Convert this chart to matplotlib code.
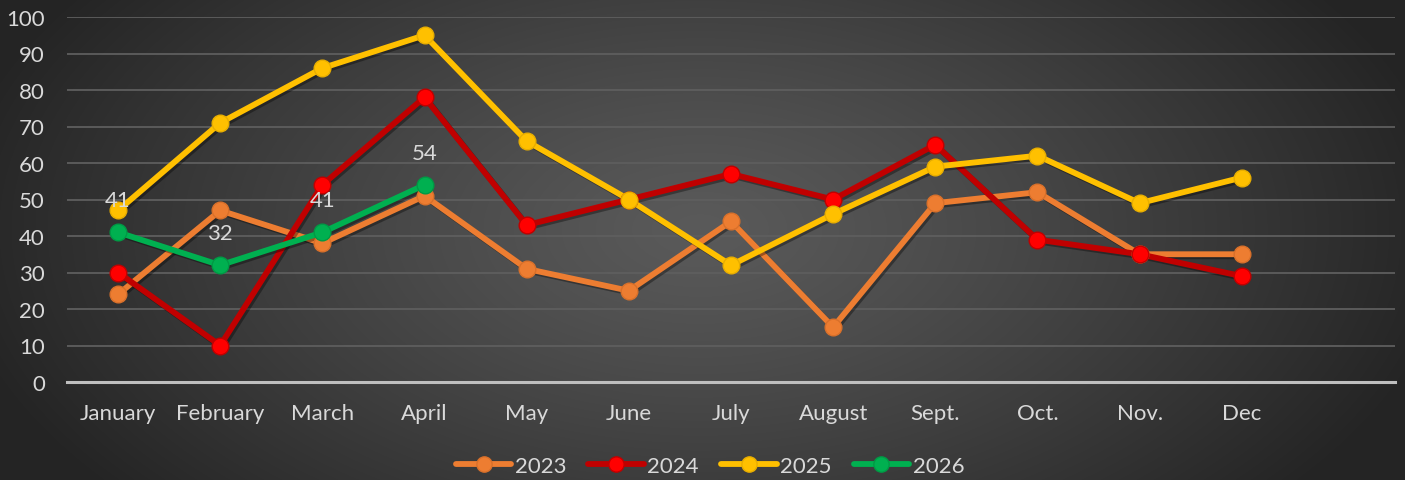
import numpy as np
import matplotlib
matplotlib.use("Agg")
import matplotlib.pyplot as plt
import matplotlib.patheffects as pe
from matplotlib.lines import Line2D

months = ["January", "February", "March", "April", "May", "June", "July",
          "August", "Sept.", "Oct.", "Nov.", "Dec"]
s2023 = [24, 47, 38, 51, 31, 25, 44, 15, 49, 52, 35, 35]
s2024 = [30, 10, 54, 78, 43, 50, 57, 50, 65, 39, 35, 29]
s2025 = [47, 71, 86, 95, 66, 50, 32, 46, 59, 62, 49, 56]
s2026 = [41, 32, 41, 54]
series_names = ["2023", "2024", "2025", "2026"]
yticks = [0, 10, 20, 30, 40, 50, 60, 70, 80, 90, 100]

plt.rcParams['font.family'] = ['Lato', 'DejaVu Sans']
txt = '#D9D9D9'
fs = 16

W, H = 1405, 481
fig = plt.figure(figsize=(W / 100, H / 100), dpi=100)

# radial gradient background
bg = fig.add_axes([0, 0, 1, 1], zorder=-10)
yy, xx = np.mgrid[0:H, 0:W]
cx, cy = 700, 230
d = np.sqrt(((xx - cx) / 760.0) ** 2 + ((yy - cy) / 420.0) ** 2)
d = np.clip(d, 0, 1)
inner = np.array([0x5A, 0x5A, 0x5A]) / 255.0
outer = np.array([0x24, 0x24, 0x24]) / 255.0
img = inner[None, None, :] * (1 - d[..., None] ** 1.2) + outer[None, None, :] * (d[..., None] ** 1.2)
bg.imshow(img, aspect='auto', extent=[0, 1, 0, 1])
bg.axis('off')

ax = fig.add_axes([67 / W, 1 - 383 / H, (1395 - 67) / W, (383 - 18) / H])
ax.set_facecolor('none')

x = np.arange(len(months))
styles = [
    (s2023, '#ED7D31', '#ED7D31', '#D9702A'),
    (s2024, '#C00000', '#FF0000', '#C00000'),
    (s2025, '#FFC000', '#FFC000', '#E8AE00'),
    (s2026, '#00B050', '#00B050', '#009A45'),
]
shadow = [pe.SimpleLineShadow(offset=(1.5, -1.5), shadow_color='black', alpha=0.35), pe.Normal()]
handles = []
for (vals, lc, mc, ec), name in zip(styles, series_names):
    xs = x[:len(vals)]
    ax.plot(xs, vals, color=lc, lw=4.2, solid_capstyle='round', zorder=3,
            path_effects=shadow)
    ax.plot(xs, vals, ls='none', marker='o', ms=12, mfc=mc, mec=ec, mew=1,
            zorder=4)
    handles.append(Line2D([0], [0], color=lc, lw=4.2, marker='o', ms=11,
                          mfc=mc, mec=ec, solid_capstyle='round'))

for xi, v in zip(x[:len(s2026)], s2026):
    ax.annotate(str(v), (xi, v), xytext=(0, 23), textcoords='offset points',
                ha='center', va='center', color=txt, fontsize=fs, zorder=5)

ax.set_xlim(-0.5, 12.5)
ax.set_ylim(0, 100)
ax.set_yticks(yticks)
ax.set_xticks(x)
ax.set_xticklabels(months)
ax.tick_params(axis='both', length=0, colors=txt, labelsize=fs)
ax.tick_params(axis='x', pad=15)
ax.tick_params(axis='y', pad=16)
for lab in ax.get_yticklabels():
    lab.set_horizontalalignment('right')
ax.grid(axis='y', color='#5E5E5E', lw=1.3)
ax.set_axisbelow(True)
for sp in ['top', 'right', 'left']:
    ax.spines[sp].set_visible(False)
ax.spines['bottom'].set_color('#BFBFBF')
ax.spines['bottom'].set_linewidth(2.2)
ax.spines['bottom'].set_zorder(2)

leg = fig.legend(handles, series_names, loc='center', bbox_to_anchor=(710 / W, 1 - 467 / H),
                 ncol=4, frameon=False, fontsize=fs, labelcolor=txt,
                 handlelength=2.5, handletextpad=0.15, columnspacing=1.0)

fig.savefig('out.png', dpi=100)
